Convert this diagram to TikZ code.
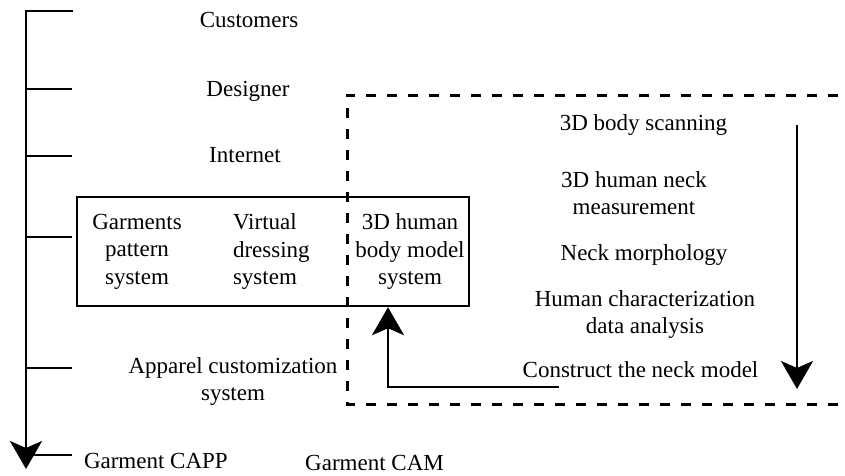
\documentclass[tikz,border=0pt]{standalone}
\usepackage{fontspec}
\setmainfont{Liberation Serif}
\usetikzlibrary{arrows.meta}
\begin{document}
\begin{tikzpicture}[x=1pt,y=-1pt,
  txt/.style={inner sep=0pt,outer sep=0pt,font=\fontsize{23}{27.5}\selectfont,text height=16pt,text depth=5pt,align=center},
  mtxt/.style={inner sep=0pt,outer sep=0pt,font=\fontsize{23}{27.5}\selectfont,align=center},
  solidline/.style={line width=2.4pt,line cap=rect},
  dashline/.style={line width=3pt,dash pattern=on 10pt off 11pt},
  bigtip/.style={-{Stealth[length=28pt,width=32pt,inset=7pt]}}
]
\useasboundingbox (0,0) rectangle (845,475);
% axis
\coordinate (axtop) at (26,11);
\coordinate (axend) at (26,469);
\foreach \n/\y in {a/11,b/89,c/156,d/237,e/368,f/455}{
  \coordinate (t\n) at (26,\y);
  \coordinate (u\n) at (72,\y);
}
\draw[solidline] (ta) -- (ua);
\foreach \n in {b,c,d,e,f}{\draw[line width=2.4pt] (t\n) -- (u\n);}
\draw[line width=2.4pt,bigtip] (axtop) -- (axend);
% dashed region
\coordinate (dtr) at (838,95);
\coordinate (dtl) at (347,95);
\coordinate (dbl) at (347,404);
\coordinate (dbr) at (838,404);
\draw[dashline] (dtr) -- (dtl) -- (dbl) -- (dbr);
% labels left
\node[txt] (cust) at (249,21.5) {Customers};
\node[txt] (des) at (248,90.5) {Designer};
\node[txt] (int) at (245,156.5) {Internet};
% box
\node[draw,line width=2.4pt,minimum width=392pt,minimum height=109pt,inner sep=0pt] (box) at (273,251.5) {};
\node[mtxt] (gps) at (137,251.5) {Garments\\pattern\\system};
\node[mtxt,align=left,anchor=west] (vds) at (233,251.5) {Virtual\\dressing\\system};
\node[mtxt] (hbm) at (410,251.5) {3D human\\body model\\system};
\node[mtxt] (acs) at (233,381.5) {Apparel customization\\system};
\node[txt,anchor=west] (capp) at (84,462.5) {Garment CAPP};
\node[txt] (cam) at (374.5,464.5) {Garment CAM};
% right labels
\node[txt] (scan) at (643.5,124.5) {3D body scanning};
\node[mtxt] (meas) at (634,193) {3D human neck\\measurement};
\node[txt] (morph) at (644,254.5) {Neck morphology};
\node[mtxt] (anal) at (645,314.5) {Human characterization\\data analysis};
\node[txt] (cons) at (640.5,371.5) {Construct the neck model};
% right arrow
\coordinate (rtop) at (797,125);
\coordinate (rbot) at (797,389);
\draw[line width=2.4pt,bigtip] (rtop) -- (rbot);
% up arrow
\coordinate (hstart) at (559,387);
\draw[line width=2.4pt,bigtip] (hstart) -| (box.south -| 388,0);
\end{tikzpicture}
\end{document}
